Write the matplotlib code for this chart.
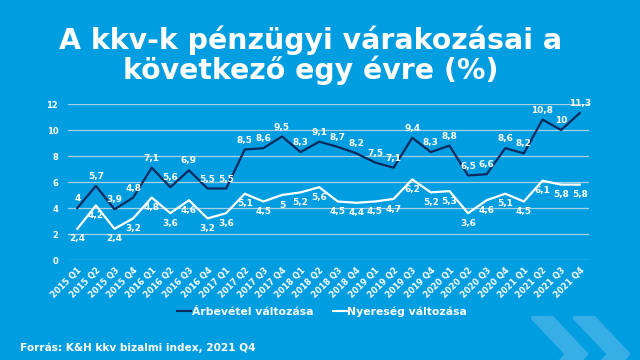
import matplotlib
matplotlib.use("Agg")
import matplotlib.pyplot as plt
from matplotlib.patches import Polygon

# data
quarters = [f"{y} Q{q}" for y in range(2015, 2022) for q in range(1, 5)]
arbevetel = [4, 5.7, 3.9, 4.8, 7.1, 5.6, 6.9, 5.5, 5.5, 8.5, 8.6, 9.5, 8.3, 9.1,
             8.7, 8.2, 7.5, 7.1, 9.4, 8.3, 8.8, 6.5, 6.6, 8.6, 8.2, 10.8, 10, 11.3]
nyereseg = [2.4, 4.2, 2.4, 3.2, 4.8, 3.6, 4.6, 3.2, 3.6, 5.1, 4.5, 5, 5.2, 5.6,
            4.5, 4.4, 4.5, 4.7, 6.2, 5.2, 5.3, 3.6, 4.6, 5.1, 4.5, 6.1, 5.8, 5.8]
yticks = [0, 2, 4, 6, 8, 10, 12]

BG = "#009ee0"
NAVY = "#0b2a5e"
GRID = "#a9cfe4"
CHEV = "#38aee6"

plt.rcParams['font.family'] = ['DejaVu Sans']

fig = plt.figure(figsize=(6.4, 3.6), dpi=100, facecolor=BG)

def px(x, y):
    # pixel coords (from top-left) -> figure fraction
    return x / 640, 1 - y / 360

# decorative chevrons bottom right
for dx in (0, 42):
    pts = [(533 + dx, 318), (552 + dx, 318), (586 + dx, 354), (572 + dx, 370),
           (553 + dx, 370), (567 + dx, 354)]
    fig.patches.append(Polygon([px(*p) for p in pts], closed=True, transform=fig.transFigure,
                               facecolor=CHEV, edgecolor=CHEV, lw=3, joinstyle='round', zorder=0))

ax = fig.add_axes([68 / 640, 1 - 260 / 360, (589 - 68) / 640, (260 - 104) / 360])
ax.set_facecolor("none")
x = list(range(len(quarters)))

ax.plot(x, arbevetel, color=NAVY, lw=1.6, zorder=3, label="Árbevétel változása")
ax.plot(x, nyereseg, color="white", lw=1.6, zorder=3, label="Nyereség változása")

def fmt(v):
    s = f"{v:g}"
    return s.replace(".", ",")

for xi, v in zip(x, arbevetel):
    ax.annotate(fmt(v), (xi, v), xytext=(0, 6.8), textcoords="offset points",
                ha="center", va="center", color="white", fontsize=6.5, fontweight="bold")
for xi, v in zip(x, nyereseg):
    ax.annotate(fmt(v), (xi, v), xytext=(0, -7.3), textcoords="offset points",
                ha="center", va="center", color="white", fontsize=6.5, fontweight="bold")

ax.set_xlim(-0.5, len(quarters) - 0.5)
ax.set_ylim(0, 12)
ax.set_yticks(yticks)
ax.set_yticklabels([str(t) for t in yticks], color="white", fontsize=6, fontweight="bold")
ax.set_xticks(x)
ax.set_xticklabels(quarters, rotation=45, ha="right", rotation_mode="anchor",
                   color="white", fontsize=6, fontweight="bold")
ax.tick_params(length=0, axis="y", pad=7)
ax.tick_params(length=0, axis="x", pad=4)
ax.grid(axis="y", color=GRID, lw=0.9)
ax.set_axisbelow(True)
for s in ax.spines.values():
    s.set_visible(False)

leg = fig.legend(loc="center", bbox_to_anchor=px(322, 312), ncol=2, frameon=False,
                 handlelength=1.3, handletextpad=0.05, columnspacing=1.8,
                 prop={"size": 7.8, "weight": "bold"})
for t in leg.get_texts():
    t.set_color("white")
for h in leg.get_lines():
    h.set_linewidth(1.5)

fig.text(*px(311, 55), "A kkv-k pénzügyi várakozásai a\nkövetkező egy évre (%)",
         ha="center", va="center", color="white", fontsize=20.4, fontweight="bold",
         linespacing=1.02)
fig.text(*px(20, 348), "Forrás: K&H kkv bizalmi index, 2021 Q4", ha="left", va="center",
         color="white", fontsize=7.6, fontweight="bold")

fig.savefig("out.png", dpi=100, facecolor=BG)
